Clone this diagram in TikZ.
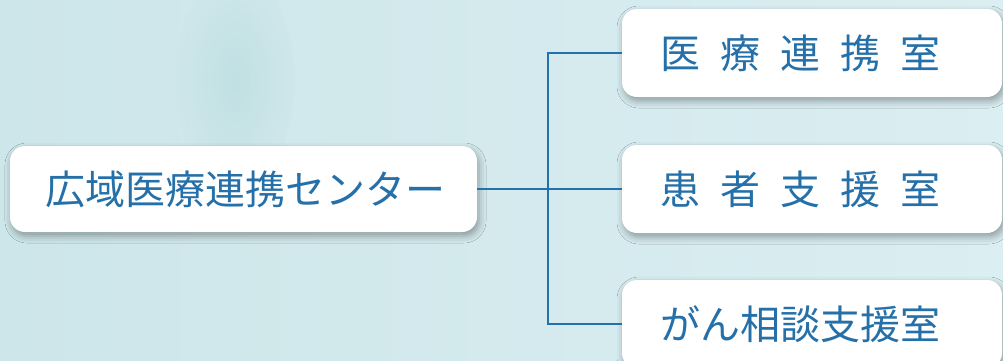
\documentclass[tikz,border=0pt]{standalone}
\usepackage{fontspec}
\newfontfamily\jpfont{Noto Sans CJK JP}
\usetikzlibrary{shadows.blur}
\definecolor{bgcol}{HTML}{D1E9EC}
\definecolor{bgleft}{HTML}{CDE6E9}
\definecolor{bgright}{HTML}{DBEEF2}
\definecolor{blueink}{HTML}{2570A8}
\tikzset{
  box/.style={draw=none, fill=white, rounded corners=15pt,
    blur shadow={shadow xshift=2pt, shadow yshift=-4pt, shadow blur radius=7pt, shadow opacity=35},
    text=blueink, font=\jpfont\fontsize{40}{40}\selectfont},
  leftbox/.style={box, minimum width=467pt, minimum height=86pt, text width=397pt, inner xsep=35pt, align=center},
  rightbox/.style={box, minimum width=380pt, minimum height=88pt, text width=304pt, inner xsep=38pt, align=left},
  conn/.style={draw=blueink, line width=2.5pt}
}
\begin{document}
\begin{tikzpicture}[x=1pt,y=-1pt]
\useasboundingbox (0,0) rectangle (1003,361);
\shade[left color=bgleft, right color=bgright] (0,0) rectangle (1003,361);
\shade[inner color=bgleft!80!teal, outer color=bgleft, opacity=0.35] (235,80) ellipse (60 and 110);
\node[leftbox] (center) at (243.5,189) {広域医療連携センター};
\node[rightbox] (r1) at (812,53) {医\hspace{20pt}療\hspace{20pt}連\hspace{20pt}携\hspace{20pt}室};
\node[rightbox] (r2) at (812,189) {患\hspace{20pt}者\hspace{20pt}支\hspace{20pt}援\hspace{20pt}室};
\node[rightbox] (r3) at (812,324) {がん相談支援室};
\coordinate (j) at (548,189);
\path[conn] (center.east) -- (r2.west);
\path[conn] (r1.west) -| (j) |- (r3.west);
\end{tikzpicture}
\end{document}
